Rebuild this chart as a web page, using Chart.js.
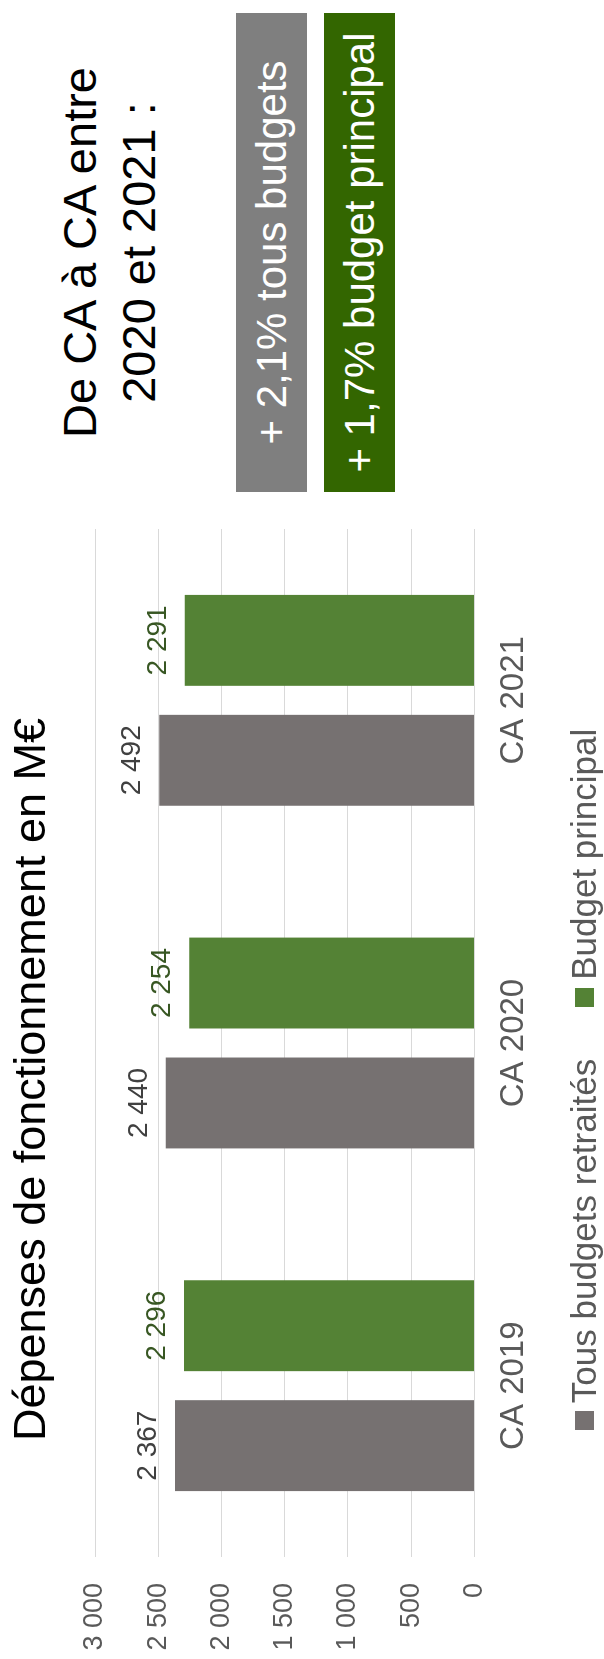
<!DOCTYPE html>
<html lang="fr">
<head>
<meta charset="utf-8">
<title>Dépenses de fonctionnement</title>
<script src="https://cdn.jsdelivr.net/npm/chart.js@4.4.1/dist/chart.umd.min.js"></script>
<style>
html, body { margin:0; padding:0; background:#fff; }
body { width:604px; height:1659px; overflow:hidden; position:relative; font-family:"Liberation Sans", Arial, sans-serif; }
/* the slide is laid out landscape, then turned a quarter left */
#page { position:absolute; left:0; top:0; width:1659px; height:604px; transform-origin:0 0; transform:translateY(1659px) rotate(-90deg); }
#container { position:absolute; left:0; top:0; }
#titre { position:absolute; left:0; top:3px; width:1159px; text-align:center; font-size:45px; line-height:54px; color:#000; white-space:nowrap; }
#legend { position:absolute; left:0; top:564px; width:1159px; height:40px; display:flex; justify-content:center; align-items:center; }
.item { display:flex; align-items:center; font-size:35px; line-height:40px; color:#595959; white-space:nowrap; }
.item + .item { margin-left:52px; }
.box { width:19px; height:19px; margin-right:8px; }
#entete { position:absolute; left:1167px; top:50px; width:479px; text-align:center; font-size:47px; line-height:59px; color:#000; }
.evol { position:absolute; left:1167px; width:479px; height:71px; line-height:71px; text-align:center; color:#fff; font-size:42px; white-space:nowrap; }
</style>
</head>
<body>
<div id="page">
  <canvas id="container" width="1159" height="604"></canvas>
  <div id="titre">Dépenses de fonctionnement en M€</div>
  <div id="legend"></div>
  <div id="entete">De CA à CA entre<br>2020 et 2021 :</div>
  <div class="evol" id="evol0" style="top:236px; background:#7f7f7f;"></div>
  <div class="evol" id="evol1" style="top:324px; background:#336600;"></div>
</div>
<script>
var categories = ['CA 2019', 'CA 2020', 'CA 2021'];
var seriesNames = ['Tous budgets retraités', 'Budget principal'];
var tousBudgets = [2367, 2440, 2492];
var budgetPrincipal = [2296, 2254, 2291];
var yTicks = [0, 500, 1000, 1500, 2000, 2500, 3000];
var evolutions = ['+ 2,1% tous budgets', '+ 1,7% budget principal'];

var barColors = ['#767171', '#548235'];
var labelColors = ['#404040', '#385723'];

Chart.defaults.font.family = '"Liberation Sans", Arial, sans-serif';

// 2367 -> "2 367"
function milliers(v) {
  return String(v).replace(/\B(?=(\d{3})+(?!\d))/g, ' ');
}

// value written above each bar
var etiquettes = {
  id: 'etiquettes',
  afterDatasetsDraw: function(chart) {
    var ctx = chart.ctx;
    ctx.save();
    ctx.font = '28px "Liberation Sans", Arial, sans-serif';
    ctx.textAlign = 'center';
    ctx.textBaseline = 'alphabetic';
    chart.data.datasets.forEach(function(ds, i) {
      ctx.fillStyle = labelColors[i];
      chart.getDatasetMeta(i).data.forEach(function(bar, j) {
        ctx.fillText(milliers(ds.data[j]), bar.x, bar.y - 19);
      });
    });
    ctx.restore();
  }
};

var ctx = document.getElementById('container');
var chart = new Chart(ctx, {
  type: 'bar',
  data: {
    labels: categories,
    datasets: [{
      label: seriesNames[0],
      data: tousBudgets,
      backgroundColor: barColors[0],
      borderWidth: 0
    }, {
      label: seriesNames[1],
      data: budgetPrincipal,
      backgroundColor: barColors[1],
      borderWidth: 0
    }]
  },
  options: {
    responsive: false,
    maintainAspectRatio: false,
    devicePixelRatio: 1,
    animation: false,
    barPercentage: 0.758,
    categoryPercentage: 0.70,
    layout: { padding: { left: 7, right: 29, top: 95, bottom: 50 } },
    plugins: {
      legend: { display: false },
      tooltip: { enabled: false },
      title: { display: false }
    },
    scales: {
      x: {
        grid: { display: false, drawTicks: false },
        border: { display: false },
        ticks: { color: '#595959', font: { size: 33, lineHeight: 1.2 }, padding: 20 }
      },
      y: {
        min: 0,
        max: 3000,
        afterBuildTicks: function(axis) {
          axis.ticks = yTicks.map(function(v) { return { value: v }; });
        },
        afterFit: function(axis) {
          axis.width = 95;
        },
        grid: { color: '#d9d9d9', lineWidth: 1, drawTicks: false },
        border: { display: false },
        ticks: {
          color: '#595959',
          font: { size: 27 },
          padding: 26,
          callback: function(v) { return milliers(v); }
        }
      }
    }
  },
  plugins: [etiquettes]
});

// html legend built from the datasets
var legend = document.getElementById('legend');
chart.data.datasets.forEach(function(ds) {
  var item = document.createElement('div');
  item.className = 'item';
  var box = document.createElement('span');
  box.className = 'box';
  box.style.background = ds.backgroundColor;
  var txt = document.createElement('span');
  txt.textContent = ds.label;
  item.appendChild(box);
  item.appendChild(txt);
  legend.appendChild(item);
});

document.getElementById('evol0').textContent = evolutions[0];
document.getElementById('evol1').textContent = evolutions[1];
</script>
</body>
</html>
